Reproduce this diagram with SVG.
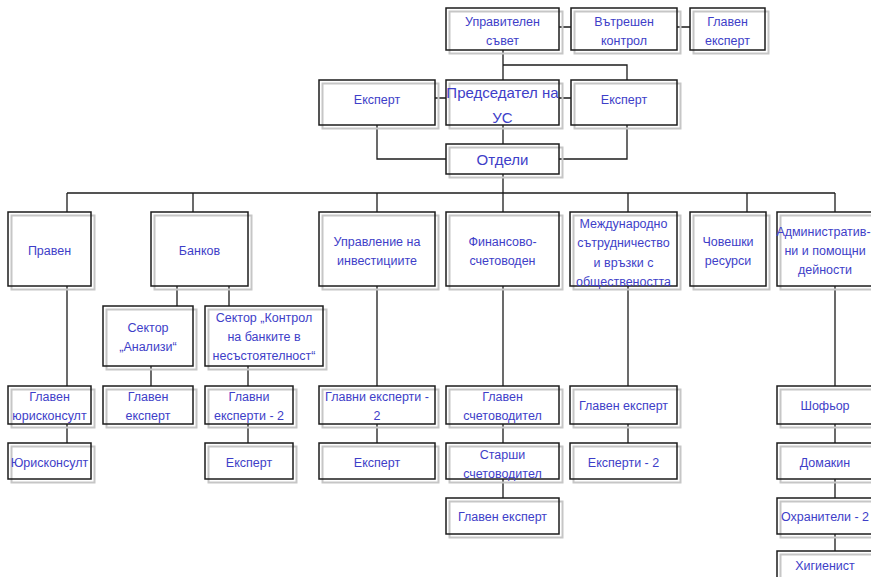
<svg xmlns="http://www.w3.org/2000/svg" width="871" height="577" viewBox="0 0 871 577">
<style>
.sh{fill:none;stroke:#c6c6c6;stroke-width:2}
.bx{fill:none;stroke:#1c1c1c;stroke-width:1.5}
.t{font-family:"Liberation Sans",Arial,sans-serif;font-size:12.5px;fill:#3e3ec8;text-anchor:middle}
.tl{font-size:15px}
.cn{fill:none;stroke:#1c1c1c;stroke-width:1.3}
</style>
<rect width="871" height="577" fill="#fff"/>
<g id="connectors" class="cn">
<path d="M559,27H571M677,27H690"/>
<path d="M503,50V80M503,65H627V80"/>
<path d="M435,98H446M559,98H571"/>
<path d="M503,125V144"/>
<path d="M377,125V159H446M627,125V159H559"/>
<path d="M503,174V193M67,193H835"/>
<path d="M67,193V212M193,193V212M377,193V212M503,193V212M628,193V212M747,193V212M835,193V212"/>
<path d="M67,286V386M67,424V443"/>
<path d="M177,286V306M229,286V306"/>
<path d="M151,366V386M248,366V386M248,424V443"/>
<path d="M377,286V386M377,424V443"/>
<path d="M503,286V386M503,424V443M503,479V498"/>
<path d="M628,286V386M628,424V443"/>
<path d="M835,286V386M835,424V443M835,479V498M835,534V551"/>
</g>
<g id="n-board"><rect class="sh" x="449.5" y="11.5" width="113" height="42"/><rect class="bx" x="446" y="8" width="113" height="42"/><text class="t" x="502.5" y="25.5">Управителен</text><text class="t" x="502.5" y="44.5">съвет</text></g>
<g id="n-control"><rect class="sh" x="574.5" y="11.5" width="106" height="42"/><rect class="bx" x="571" y="8" width="106" height="42"/><text class="t" x="624" y="25.5">Вътрешен</text><text class="t" x="624" y="44.5">контрол</text></g>
<g id="n-chief-top"><rect class="sh" x="693.5" y="11.5" width="75" height="42"/><rect class="bx" x="690" y="8" width="75" height="42"/><text class="t" x="727.5" y="25.5">Главен</text><text class="t" x="727.5" y="44.5">експерт</text></g>
<g id="n-expert-l"><rect class="sh" x="322.5" y="83.5" width="116" height="45"/><rect class="bx" x="319" y="80" width="116" height="45"/><text class="t" x="377" y="103.5">Експерт</text></g>
<g id="n-chair"><rect class="sh" x="449.5" y="83.5" width="113" height="45"/><rect class="bx" x="446" y="80" width="113" height="45"/><text class="t tl" x="502.5" y="97.5">Председател на</text><text class="t tl" x="502.5" y="122.5">УС</text></g>
<g id="n-expert-r"><rect class="sh" x="574.5" y="83.5" width="106" height="45"/><rect class="bx" x="571" y="80" width="106" height="45"/><text class="t" x="624" y="103.5">Експерт</text></g>
<g id="n-depts"><rect class="sh" x="449.5" y="147.5" width="113" height="30"/><rect class="bx" x="446" y="144" width="113" height="30"/><text class="t tl" x="502.5" y="164.5">Отдели</text></g>
<g id="n-legal"><rect class="sh" x="11.5" y="215.5" width="83" height="74"/><rect class="bx" x="8" y="212" width="83" height="74"/><text class="t" x="49.5" y="254.5">Правен</text></g>
<g id="n-bank"><rect class="sh" x="154.5" y="215.5" width="97" height="74"/><rect class="bx" x="151" y="212" width="97" height="74"/><text class="t" x="199.5" y="254.5">Банков</text></g>
<g id="n-invest"><rect class="sh" x="322.5" y="215.5" width="116" height="74"/><rect class="bx" x="319" y="212" width="116" height="74"/><text class="t" x="377" y="245.5">Управление на</text><text class="t" x="377" y="264.5">инвестициите</text></g>
<g id="n-fin"><rect class="sh" x="449.5" y="215.5" width="113" height="74"/><rect class="bx" x="446" y="212" width="113" height="74"/><text class="t" x="502.5" y="245.5">Финансово-</text><text class="t" x="502.5" y="264.5">счетоводен</text></g>
<g id="n-intl"><rect class="sh" x="573.5" y="215.5" width="107" height="74"/><rect class="bx" x="570" y="212" width="107" height="74"/><text class="t" x="623.5" y="227.5">Международно</text><text class="t" x="623.5" y="247">сътрудничество</text><text class="t" x="623.5" y="266.5">и връзки с</text><text class="t" x="623.5" y="285.5">обществеността</text></g>
<g id="n-hr"><rect class="sh" x="693.5" y="215.5" width="76" height="74"/><rect class="bx" x="690" y="212" width="76" height="74"/><text class="t" x="728" y="245.5">Човешки</text><text class="t" x="728" y="264.5">ресурси</text></g>
<g id="n-admin"><rect class="sh" x="780.5" y="215.5" width="100" height="74"/><rect class="bx" x="777" y="212" width="100" height="74"/><text class="t" x="823.5" y="235.5">Административ-</text><text class="t" x="825" y="254.5">ни и помощни</text><text class="t" x="825" y="273.5">дейности</text></g>
<g id="n-sec-an"><rect class="sh" x="106.5" y="309.5" width="90" height="60"/><rect class="bx" x="103" y="306" width="90" height="60"/><text class="t" x="148" y="331.5">Сектор</text><text class="t" x="148" y="350.5">„Анализи“</text></g>
<g id="n-sec-ctrl"><rect class="sh" x="208.5" y="309.5" width="118" height="60"/><rect class="bx" x="205" y="306" width="118" height="60"/><text class="t" x="264" y="321.5">Сектор „Контрол</text><text class="t" x="264" y="340.5">на банките в</text><text class="t" x="264" y="359.5">несъстоятелност“</text></g>
<g id="n-chief-legal"><rect class="sh" x="11.5" y="389.5" width="83" height="38"/><rect class="bx" x="8" y="386" width="83" height="38"/><text class="t" x="49.5" y="400.5">Главен</text><text class="t" x="49.5" y="419.5">юрисконсулт</text></g>
<g id="n-legal-c"><rect class="sh" x="11.5" y="446.5" width="83" height="36"/><rect class="bx" x="8" y="443" width="83" height="36"/><text class="t" x="49.5" y="466.5">Юрисконсулт</text></g>
<g id="n-an-chief"><rect class="sh" x="106.5" y="389.5" width="90" height="38"/><rect class="bx" x="103" y="386" width="90" height="38"/><text class="t" x="148" y="400.5">Главен</text><text class="t" x="148" y="419.5">експерт</text></g>
<g id="n-ctrl-chief"><rect class="sh" x="208.5" y="389.5" width="88" height="38"/><rect class="bx" x="205" y="386" width="88" height="38"/><text class="t" x="249" y="400.5">Главни</text><text class="t" x="249" y="419.5">експерти - 2</text></g>
<g id="n-ctrl-exp"><rect class="sh" x="208.5" y="446.5" width="88" height="36"/><rect class="bx" x="205" y="443" width="88" height="36"/><text class="t" x="249" y="466.5">Експерт</text></g>
<g id="n-inv-chief"><rect class="sh" x="322.5" y="389.5" width="116" height="38"/><rect class="bx" x="319" y="386" width="116" height="38"/><text class="t" x="377" y="400.5">Главни експерти -</text><text class="t" x="377" y="419.5">2</text></g>
<g id="n-inv-exp"><rect class="sh" x="322.5" y="446.5" width="116" height="36"/><rect class="bx" x="319" y="443" width="116" height="36"/><text class="t" x="377" y="466.5">Експерт</text></g>
<g id="n-fin-chief"><rect class="sh" x="449.5" y="389.5" width="113" height="38"/><rect class="bx" x="446" y="386" width="113" height="38"/><text class="t" x="502.5" y="400.5">Главен</text><text class="t" x="502.5" y="419.5">счетоводител</text></g>
<g id="n-fin-senior"><rect class="sh" x="449.5" y="446.5" width="113" height="36"/><rect class="bx" x="446" y="443" width="113" height="36"/><text class="t" x="502.5" y="458.5">Старши</text><text class="t" x="502.5" y="477.5">счетоводител</text></g>
<g id="n-fin-exp"><rect class="sh" x="449.5" y="501.5" width="113" height="36"/><rect class="bx" x="446" y="498" width="113" height="36"/><text class="t" x="502.5" y="520.5">Главен експерт</text></g>
<g id="n-intl-chief"><rect class="sh" x="573.5" y="389.5" width="107" height="38"/><rect class="bx" x="570" y="386" width="107" height="38"/><text class="t" x="623.5" y="409.5">Главен експерт</text></g>
<g id="n-intl-exp"><rect class="sh" x="573.5" y="446.5" width="107" height="36"/><rect class="bx" x="570" y="443" width="107" height="36"/><text class="t" x="623.5" y="466.5">Експерти - 2</text></g>
<g id="n-driver"><rect class="sh" x="780.5" y="389.5" width="100" height="38"/><rect class="bx" x="777" y="386" width="100" height="38"/><text class="t" x="825" y="409.5">Шофьор</text></g>
<g id="n-house"><rect class="sh" x="780.5" y="446.5" width="100" height="36"/><rect class="bx" x="777" y="443" width="100" height="36"/><text class="t" x="825" y="466.5">Домакин</text></g>
<g id="n-guards"><rect class="sh" x="780.5" y="501.5" width="100" height="36"/><rect class="bx" x="777" y="498" width="100" height="36"/><text class="t" x="825" y="520.5">Охранители - 2</text></g>
<g id="n-hyg"><rect class="sh" x="780.5" y="554.5" width="100" height="36"/><rect class="bx" x="777" y="551" width="100" height="36"/><text class="t" x="825" y="569.5">Хигиенист</text></g>
</svg>
